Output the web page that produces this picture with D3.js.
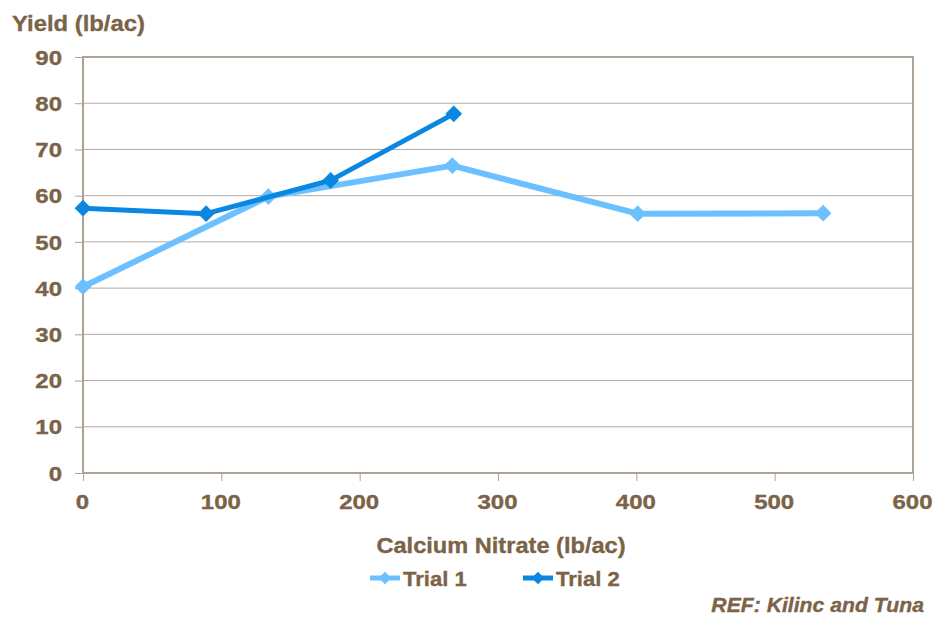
<!DOCTYPE html>
<html>
<head>
<meta charset="utf-8">
<script src="https://cdn.jsdelivr.net/npm/d3@7/dist/d3.min.js"></script>
<style>
  html, body { margin: 0; padding: 0; background: #fff; }
  svg text { font-family: "Liberation Sans", Arial, sans-serif; font-weight: bold; fill: #7B6347; stroke: #7B6347; stroke-width: 0.35px; }
</style>
</head>
<body>
<svg id="chart" width="945" height="624"></svg>
<script>
const trial1X = [0, 134, 267, 401, 535];
const trial1Y = [40.3, 59.8, 66.5, 56.1, 56.2];
const trial2X = [0, 89, 179, 268];
const trial2Y = [57.3, 56.1, 63.3, 77.7];
const xTicks = [0, 100, 200, 300, 400, 500, 600];
const yTicks = [0, 10, 20, 30, 40, 50, 60, 70, 80, 90];
const seriesNames = ["Trial 1", "Trial 2"];
const seriesColors = ["#6CC0FF", "#0A86E3"];

const svg = d3.select("#chart");
const m = { left: 83, right: 913, top: 57, bottom: 473 };
const x = d3.scaleLinear().domain([0, 600]).range([m.left, m.right]);
const y = d3.scaleLinear().domain([0, 90]).range([m.bottom, m.top]);

const gridColor = "#B5ABA1";
const axisColor = "#AEA196";
const stretch = 1.2;

// gridlines
svg.append("g").selectAll("line").data(yTicks.slice(1)).join("line")
  .attr("x1", m.left).attr("x2", m.right)
  .attr("y1", d => y(d)).attr("y2", d => y(d))
  .attr("stroke", gridColor).attr("stroke-width", 1);

// frame
svg.append("rect").attr("x", m.left).attr("y", m.top)
  .attr("width", m.right - m.left).attr("height", m.bottom - m.top)
  .attr("fill", "none").attr("stroke", axisColor).attr("stroke-width", 2);

// y axis
const yAxis = d3.axisLeft(y).tickValues(yTicks).tickSize(8).tickFormat(d3.format("d"));
const gy = svg.append("g").attr("transform", `translate(${m.left},0)`).call(yAxis);
gy.select(".domain").remove();
gy.selectAll(".tick line").attr("stroke", axisColor);
gy.selectAll(".tick text").style("font-size", "20px")
  .attr("x", 0).attr("dy", null).attr("y", 7.2)
  .attr("transform", `translate(-21,0) scale(${stretch},1)`);

// x axis
const xAxis = d3.axisBottom(x).tickValues(xTicks).tickSize(8).tickFormat(d3.format("d"));
const gx = svg.append("g").attr("transform", `translate(0,${m.bottom})`).call(xAxis);
gx.select(".domain").remove();
gx.selectAll(".tick line").attr("stroke", axisColor);
gx.selectAll(".tick text").style("font-size", "20px")
  .attr("dy", null).attr("y", 0)
  .attr("transform", `translate(-1,36.3) scale(${stretch},1)`);

// lines
const data = [
  trial1X.map((v, i) => [v, trial1Y[i]]),
  trial2X.map((v, i) => [v, trial2Y[i]])
];
const line = d3.line().x(d => x(d[0])).y(d => y(d[1]));
const square = d3.symbol().type(d3.symbolSquare).size(140);

data.forEach((pts, si) => {
  svg.append("path").datum(pts).attr("d", line)
    .attr("fill", "none").attr("stroke", seriesColors[si])
    .attr("stroke-width", si === 0 ? 6 : 5).attr("stroke-linejoin", "round");
  svg.append("g").selectAll("path").data(pts).join("path")
    .attr("d", square)
    .attr("transform", d => `translate(${x(d[0])},${y(d[1])}) rotate(45)`)
    .attr("fill", seriesColors[si]);
});

// titles
svg.append("text").attr("x", 0).attr("y", 0)
  .attr("transform", "translate(12,31) scale(1.06,1)")
  .style("font-size", "22.5px").text("Yield (lb/ac)");
svg.append("text").attr("x", 0).attr("y", 0).attr("text-anchor", "middle")
  .attr("transform", "translate(501,553) scale(1.05,1)")
  .style("font-size", "22.5px").text("Calcium Nitrate (lb/ac)");

// legend
const legX = [370, 523];
seriesNames.forEach((name, i) => {
  const g = svg.append("g").attr("transform", `translate(${legX[i]},578)`);
  g.append("line").attr("x1", 0).attr("x2", 30).attr("y1", 0).attr("y2", 0)
    .attr("stroke", seriesColors[i]).attr("stroke-width", 5);
  g.append("path").attr("d", d3.symbol().type(d3.symbolSquare).size(80))
    .attr("transform", "translate(15,0) rotate(45)").attr("fill", seriesColors[i]);
  g.append("text").attr("x", 0).attr("y", 0)
    .attr("transform", "translate(33,8) scale(1.05,1)")
    .style("font-size", "21px").text(name);
});

// reference
svg.append("text").attr("x", 0).attr("y", 0).attr("text-anchor", "end")
  .attr("transform", "translate(924,612) scale(1.06,1)")
  .style("font-size", "20px").style("font-style", "italic").text("REF: Kilinc and Tuna");
</script>
</body>
</html>
